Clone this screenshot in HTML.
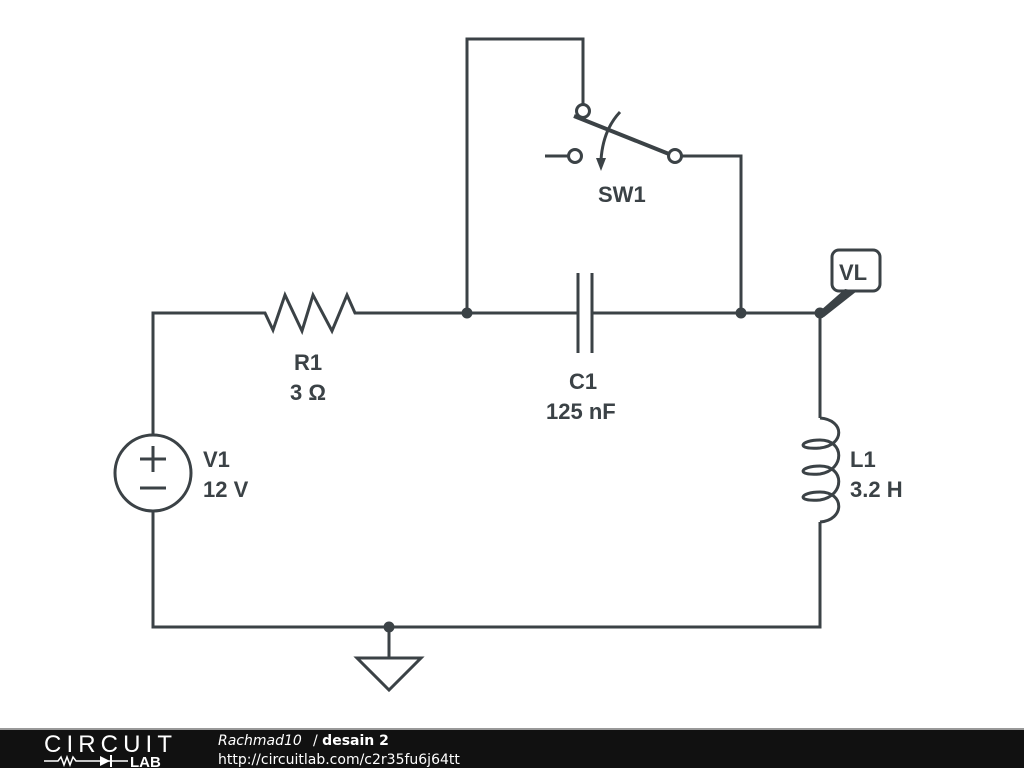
<!DOCTYPE html>
<html><head><meta charset="utf-8"><style>
html,body{margin:0;padding:0;background:#fff;width:1024px;height:768px;overflow:hidden}
svg{display:block}
text{font-family:"Liberation Sans","DejaVu Sans",sans-serif;font-weight:bold;fill:#3b4246;font-size:22px}
</style></head><body>
<svg width="1024" height="768" viewBox="0 0 1024 768">
<g fill="none" stroke="#3b4246" stroke-width="3" stroke-linejoin="miter">
<path d="M153 435 V313 H265 L273 330 L285 295 L302 331 L313 295 L332 331 L347 295 L355 313 H578"/>
<path d="M592 313 H820 V418"/>
<path d="M578 273 V353 M592 273 V353"/>
<path d="M467 313 V39 H583 V104"/>
<path d="M681 156 H741 V313"/>
<path d="M545 156 H569"/>
<path d="M574 116 L669 154" stroke-width="4"/>
<circle cx="583" cy="111" r="6.5" fill="#fff"/>
<circle cx="575" cy="156" r="6.5" fill="#fff"/>
<circle cx="675" cy="156" r="6.5" fill="#fff"/>
<path d="M620 112 Q603 130 601 160"/>
<circle cx="153" cy="473" r="38"/>
<path d="M140 459 H166 M153 446 V472 M140 488 H166"/>
<path d="M153 511 V627 H820 V522"/>
<path d="M820 418 C845 420 845 445 820 448 C795 450 800 440 820 440 C845 440 845 470 820 474 C795 476 800 466 820 466 C845 466 845 496 820 500 C795 502 800 492 820 492 C845 492 845 520 820 522"/>
<path d="M389 627 V658 M357 658 H421 L389 690 Z"/>
<rect x="832" y="250" width="48" height="41" rx="7" fill="#fff"/>
</g>
<polygon points="820,311 845,289 857,291 824,317" fill="#3b4246"/>
<polygon points="601,171 596,158 606,158" fill="#3b4246"/>
<g fill="#3b4246">
<circle cx="467" cy="313" r="5.5"/><circle cx="741" cy="313" r="5.5"/><circle cx="820" cy="313" r="5.5"/><circle cx="389" cy="627" r="5.5"/>
</g>
<text x="839" y="280">VL</text>
<text x="598" y="202">SW1</text>
<text x="294" y="370">R1</text>
<text x="290" y="400">3 Ω</text>
<text x="569" y="389">C1</text>
<text x="546" y="419">125 nF</text>
<text x="203" y="467">V1</text>
<text x="203" y="497">12 V</text>
<text x="850" y="467">L1</text>
<text x="850" y="497">3.2 H</text>
<rect x="0" y="729" width="1024" height="39" fill="#111"/>
<rect x="0" y="728" width="1024" height="2" fill="#999"/>
<text x="44" y="752" style="font-weight:normal;font-size:24px;fill:#fff" textLength="128">CIRCUIT</text>
<path d="M44 761 H58 l3 -4 l3 8 l3 -8 l3 8 l3 -8 l3 4 H128" stroke="#fff" stroke-width="1.5" fill="none"/>
<polygon points="100,756 100,766 110,761" fill="#fff"/><rect x="110" y="755" width="2" height="12" fill="#fff"/>
<text x="130" y="767" style="font-size:15px;fill:#fff">LAB</text>
<g style="font-family:'DejaVu Sans',sans-serif">
<text x="218" y="745" style="font-weight:normal;font-style:italic;font-size:14px;fill:#fff;font-family:'DejaVu Sans',sans-serif">Rachmad10</text>
<text x="313" y="745" style="font-weight:normal;font-size:14px;fill:#fff;font-family:'DejaVu Sans',sans-serif">/ <tspan font-weight="bold">desain 2</tspan></text>
<text x="218" y="764" style="font-weight:normal;font-size:14px;fill:#fff;font-family:'DejaVu Sans',sans-serif">http://circuitlab.com/c2r35fu6j64tt</text>
</g>
</svg>
</body></html>
